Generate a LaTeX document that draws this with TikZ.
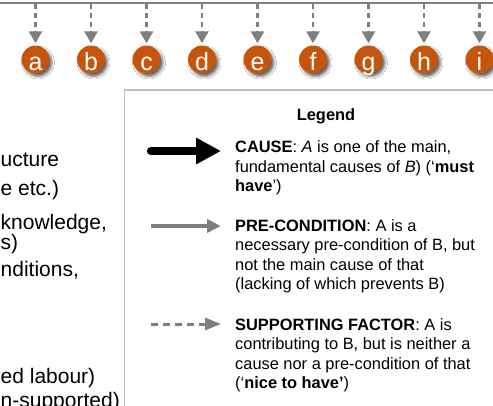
\documentclass[tikz,border=0pt]{standalone}
\usepackage{fontspec}
\setmainfont{Liberation Sans}
\usetikzlibrary{arrows.meta,shadows.blur}

\definecolor{rulegray}{RGB}{128,128,128}
\definecolor{arrowgray}{RGB}{127,127,127}
\definecolor{rust}{RGB}{197,85,12}
\definecolor{framegray}{RGB}{191,191,191}

\begin{document}
\begin{tikzpicture}[x=1pt,y=-1pt,
  topline/.style={draw=rulegray, line width=2pt},
  tick/.style={draw=arrowgray, line width=2.6pt, dash pattern=on 5pt off 4pt,
    -{Triangle[length=12pt,width=13pt]}, shorten >=2pt},
  letterdot/.style={circle, fill=rust, minimum size=28pt, inner sep=0pt,
    text=white, font=\fontsize{25}{28}\selectfont, text height=21pt, text depth=0pt,
    blur shadow={shadow xshift=2.5pt, shadow yshift=-3pt, shadow blur radius=2.5pt, shadow opacity=60}},
  legendframe/.style={draw=framegray, line width=1.6pt, fill=white, inner sep=0pt, anchor=north west,
    minimum width=400pt, minimum height=340pt},
  legendtitle/.style={font=\fontsize{16.4}{19.4}\selectfont\bfseries, anchor=base, inner sep=0pt},
  legendtext/.style={font=\fontsize{16.4}{19.4}\selectfont, anchor=north west, inner sep=0pt, align=left},
  causearrow/.style={draw=black, line width=8.3pt, line cap=round, -{Triangle[length=25pt,width=25pt]}},
  prearrow/.style={draw=arrowgray, line width=3.8pt, -{Triangle[length=14pt,width=13pt]}},
  supportarrow/.style={draw=arrowgray, line width=3pt, dash pattern=on 7pt off 5pt,
    -{Triangle[length=16pt,width=12pt]}},
  sidetext/.style={font=\fontsize{21}{24}\selectfont, anchor=base west, inner sep=0pt}
]
\useasboundingbox (0,0) rectangle (493,405);
\clip (0,0) rectangle (493,405);
\fill[white] (0,0) rectangle (493,405);

% horizontal rule with the dashed drops onto the lettered dots
\coordinate (ruleL) at (-5,2.7);
\coordinate (ruleR) at (498,2.7);
\draw[topline] (ruleL) -- (ruleR);
\foreach \l [count=\i from 0] in {a,b,c,d,e,f,g,h,i} {
  \coordinate (t\l) at ({35.5+55.5*\i},3.8);
  \node[letterdot] (\l) at ({35.5+55.5*\i},59.5) {\l};
  \draw[tick] (t\l) -- (\l.north);
}

% tails of the list items on the left
\node[sidetext] (s1) at (0.5,166.5) {ucture};
\node[sidetext] (s2) at (0.5,195) {e etc.)};
\node[sidetext] (s3) at (0.5,229.5) {knowledge,};
\node[sidetext] (s4) at (0.5,249.5) {s)};
\node[sidetext] (s5) at (0.5,276) {nditions,};
\node[sidetext] (s6) at (0.5,383) {ed labour)};
\node[sidetext] (s7) at (0.5,407.5) {n-supported)};

% legend
\node[legendframe] (legend) at (123.5,89) {};
\node[legendtitle] (ltitle) at (326,120.5) {Legend};

\coordinate (c1a) at (151,151);
\coordinate (c1b) at (221,151);
\draw[causearrow] (c1a) -- (c1b);
\node[legendtext] (l1) at (235,138.5) {\rule{0pt}{14pt}\textbf{CAUSE}: \textit{A} is one of the main,\\
  fundamental causes of \textit{B}) (‘\textbf{must}\\
  \textbf{have}’)};

\coordinate (c2a) at (151,226);
\coordinate (c2b) at (221,226);
\draw[prearrow] (c2a) -- (c2b);
\node[legendtext] (l2) at (235,217) {\rule{0pt}{14pt}\textbf{PRE-CONDITION}: A is a\\
  necessary pre-condition of B, but\\
  not the main cause of that\\
  (lacking of which prevents B)};

\coordinate (c3a) at (151,324);
\coordinate (c3b) at (221,324);
\draw[supportarrow] (c3a) -- (c3b);
\node[legendtext] (l3) at (235,316) {\rule{0pt}{14pt}\textbf{SUPPORTING FACTOR}: A is\\
  contributing to B, but is neither a\\
  cause nor a pre-condition of that\\
  (‘\textbf{nice to have’})};
\end{tikzpicture}
\end{document}
